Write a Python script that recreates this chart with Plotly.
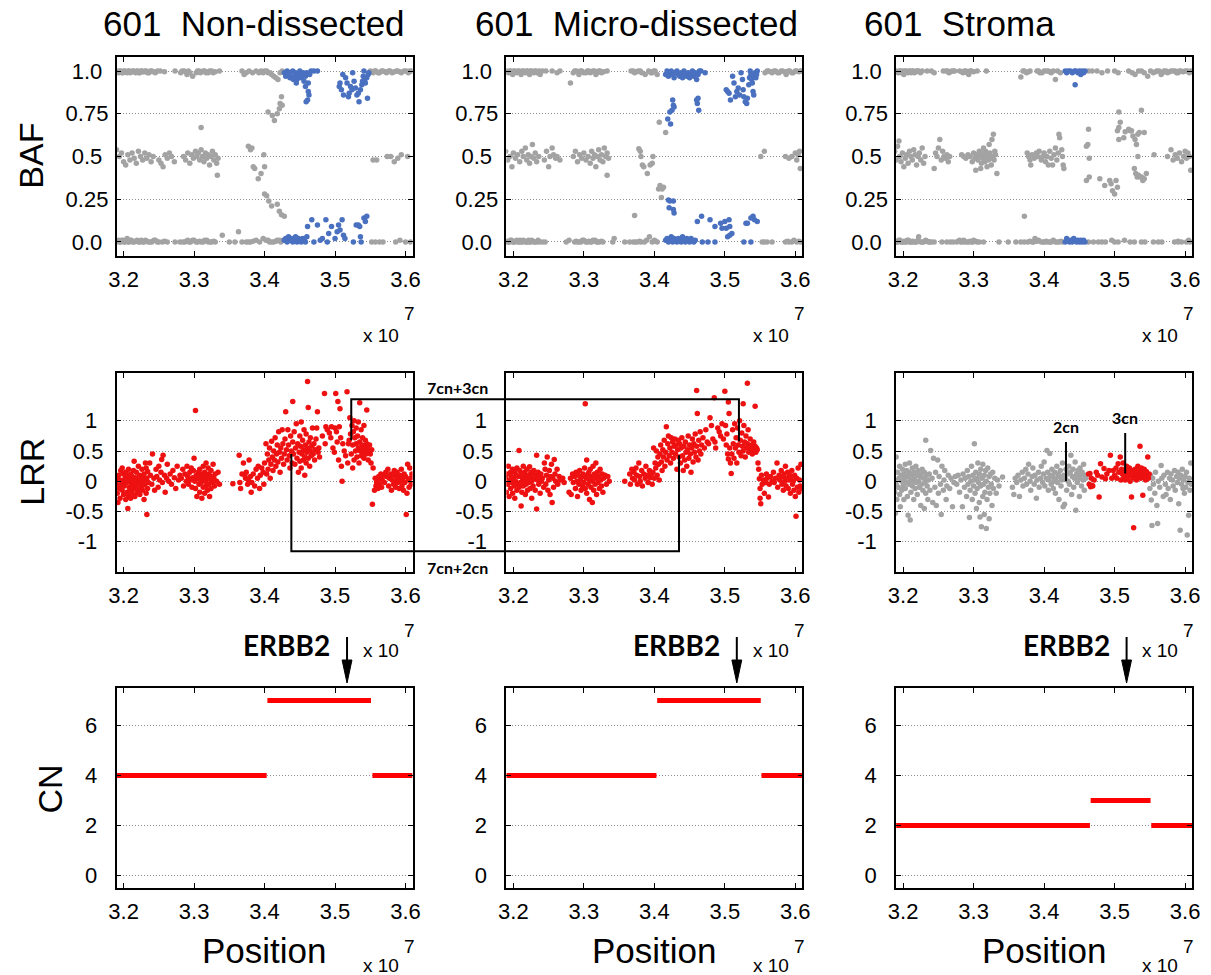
import plotly.graph_objects as go

# Positions are chr17 coordinates in units of 1e7 bp.

# ---------------- 601 Non-dissected ----------------
BAF_ND_GRAY = [
    (3.190, 1.0), (3.193, 0.99), (3.196, 1.0), (3.199, 0.99), (3.202, 1.0), (3.205, 0.99), (3.208, 1.0),
    (3.211, 0.995), (3.214, 1.0), (3.217, 0.99), (3.220, 1.0), (3.223, 0.99), (3.226, 1.0), (3.229, 0.995),
    (3.232, 1.0), (3.236, 0.99), (3.240, 1.0), (3.245, 0.99), (3.252, 1.0), (3.258, 0.995), (3.273, 1.0),
    (3.281, 0.99), (3.286, 1.0), (3.290, 0.98), (3.294, 0.99), (3.298, 0.97), (3.305, 1.0), (3.309, 0.99),
    (3.313, 1.0), (3.317, 0.99), (3.322, 1.0), (3.327, 0.99), (3.336, 1.0), (3.368, 1.0), (3.371, 0.98),
    (3.374, 0.99), (3.378, 1.0), (3.383, 0.99), (3.388, 1.0), (3.392, 0.99), (3.400, 1.0), (3.405, 0.99),
    (3.410, 0.98), (3.413, 0.97), (3.416, 0.96), (3.419, 0.95), (3.422, 0.99), (3.425, 1.0),
    (3.550, 1.0), (3.554, 0.99), (3.558, 1.0), (3.563, 0.99), (3.568, 1.0), (3.573, 0.99), (3.578, 1.0),
    (3.584, 0.995), (3.589, 1.0), (3.594, 0.99), (3.598, 1.0), (3.606, 1.0),
    (3.405, 0.76), (3.411, 0.74), (3.414, 0.71), (3.418, 0.75), (3.421, 0.78), (3.422, 0.81), (3.425, 0.80),
    (3.424, 0.85),
    (3.190, 0.54), (3.194, 0.50), (3.197, 0.52), (3.200, 0.47), (3.203, 0.45), (3.206, 0.51), (3.209, 0.48),
    (3.212, 0.52), (3.215, 0.49), (3.218, 0.46), (3.221, 0.53), (3.224, 0.50), (3.227, 0.48), (3.230, 0.52),
    (3.233, 0.49), (3.236, 0.51), (3.239, 0.47), (3.242, 0.50), (3.250, 0.48), (3.253, 0.46), (3.256, 0.44),
    (3.259, 0.51), (3.262, 0.49), (3.265, 0.52), (3.268, 0.50), (3.272, 0.47), (3.285, 0.50), (3.288, 0.48),
    (3.291, 0.52), (3.294, 0.46), (3.297, 0.51), (3.299, 0.49), (3.302, 0.53), (3.304, 0.50), (3.306, 0.52),
    (3.308, 0.48), (3.310, 0.54), (3.312, 0.50), (3.314, 0.47), (3.316, 0.52), (3.318, 0.49), (3.320, 0.51),
    (3.322, 0.45), (3.324, 0.50), (3.326, 0.53), (3.328, 0.48), (3.330, 0.51), (3.332, 0.46), (3.334, 0.49),
    (3.333, 0.39), (3.310, 0.67),
    (3.554, 0.48), (3.559, 0.48), (3.574, 0.50), (3.579, 0.50), (3.584, 0.47), (3.589, 0.49), (3.594, 0.51),
    (3.603, 0.50),
    (3.377, 0.56), (3.380, 0.54), (3.382, 0.55), (3.384, 0.44), (3.386, 0.43), (3.391, 0.37), (3.395, 0.40),
    (3.399, 0.51), (3.400, 0.44),
    (3.400, 0.28), (3.403, 0.27), (3.406, 0.24), (3.410, 0.21), (3.418, 0.22), (3.421, 0.18), (3.424, 0.16),
    (3.428, 0.15),
    (3.190, 0.0), (3.193, 0.01), (3.196, 0.0), (3.199, 0.01), (3.202, 0.0), (3.205, 0.02), (3.208, 0.0),
    (3.211, 0.01), (3.215, 0.0), (3.219, 0.01), (3.223, 0.0), (3.227, 0.0), (3.231, 0.01), (3.235, 0.0),
    (3.240, 0.0), (3.245, 0.01), (3.250, 0.0), (3.255, 0.0), (3.262, 0.0), (3.273, 0.0), (3.280, 0.0),
    (3.287, 0.0), (3.291, 0.01), (3.295, 0.0), (3.300, 0.01), (3.305, 0.0), (3.310, 0.0), (3.315, 0.01),
    (3.320, 0.0), (3.325, 0.0), (3.330, 0.0), (3.340, 0.04), (3.350, 0.0), (3.358, 0.0), (3.363, 0.06),
    (3.368, 0.0), (3.374, 0.0), (3.380, 0.0), (3.388, 0.01), (3.393, 0.0), (3.398, 0.02), (3.402, 0.01),
    (3.407, 0.0), (3.413, 0.0), (3.418, 0.01), (3.423, 0.0), (3.426, 0.01), (3.552, 0.0), (3.557, 0.0),
    (3.563, 0.0), (3.568, 0.0), (3.586, 0.0), (3.592, 0.01), (3.600, 0.0), (3.607, 0.0),
]
# additional SNPs filling the homozygous bands
BAF_ND_BAND = [
    (3.1915, 0.995), (3.1945, 1.0), (3.1975, 0.99), (3.2005, 1.0), (3.2035, 0.995), (3.2065, 1.0),
    (3.2095, 0.99), (3.2125, 1.0), (3.2155, 0.995), (3.2185, 1.0), (3.2215, 0.99), (3.2245, 1.0),
    (3.2275, 0.995), (3.2305, 1.0), (3.234, 0.99), (3.238, 1.0), (3.2425, 0.995), (3.248, 1.0),
    (3.283, 1.0), (3.288, 0.995), (3.292, 1.0), (3.303, 0.99), (3.307, 1.0), (3.311, 0.995), (3.315, 1.0),
    (3.320, 0.99), (3.325, 1.0), (3.330, 0.995), (3.395, 1.0), (3.398, 0.99), (3.403, 1.0), (3.408, 0.99),
    (3.552, 0.995), (3.556, 1.0), (3.561, 0.99), (3.566, 1.0), (3.571, 0.995), (3.576, 1.0), (3.581, 0.99),
    (3.587, 1.0), (3.592, 0.995), (3.601, 1.0), (3.604, 0.99), (3.609, 1.0),
    (3.1915, 0.005), (3.1945, 0.0), (3.1975, 0.01), (3.2005, 0.0), (3.2035, 0.005), (3.2065, 0.0),
    (3.2095, 0.01), (3.213, 0.0), (3.217, 0.005), (3.221, 0.0), (3.225, 0.01), (3.229, 0.0), (3.233, 0.005),
    (3.238, 0.0), (3.243, 0.01), (3.248, 0.0), (3.258, 0.005), (3.284, 0.0), (3.289, 0.005), (3.293, 0.0),
    (3.298, 0.01), (3.303, 0.0), (3.308, 0.005), (3.313, 0.0), (3.318, 0.01), (3.323, 0.0), (3.328, 0.005),
    (3.377, 0.0), (3.384, 0.005), (3.405, 0.01), (3.410, 0.0), (3.416, 0.005), (3.421, 0.01),
]
BAF_ND_BLUE = [
    (3.428, 0.99), (3.430, 0.97), (3.432, 1.0), (3.434, 0.98), (3.436, 0.99), (3.438, 0.96), (3.440, 1.0),
    (3.442, 0.97), (3.444, 0.99), (3.446, 0.95), (3.448, 0.98), (3.450, 1.0), (3.452, 0.96), (3.454, 0.98),
    (3.456, 0.94), (3.458, 0.97), (3.460, 0.99), (3.462, 0.93), (3.464, 0.98), (3.466, 1.0), (3.470, 1.0),
    (3.475, 1.0), (3.458, 0.91), (3.462, 0.88), (3.463, 0.86), (3.461, 0.83), (3.459, 0.82), (3.445, 0.93),
    (3.436, 0.96), (3.441, 0.95), (3.451, 0.97), (3.455, 0.99),
    (3.507, 0.93), (3.506, 0.91), (3.509, 0.89), (3.511, 0.98), (3.515, 0.96), (3.517, 0.93), (3.520, 0.87),
    (3.522, 0.91), (3.525, 0.99), (3.527, 0.94), (3.529, 0.90), (3.531, 0.86), (3.533, 0.87), (3.534, 0.82),
    (3.536, 0.89), (3.538, 0.92), (3.539, 0.94), (3.540, 0.97), (3.541, 1.0), (3.542, 0.95), (3.543, 0.93),
    (3.545, 0.96), (3.546, 0.84), (3.547, 0.98), (3.548, 0.99), (3.512, 0.86), (3.519, 0.85), (3.524, 0.89),
    (3.428, 0.01), (3.430, 0.02), (3.432, 0.0), (3.434, 0.03), (3.436, 0.01), (3.438, 0.02), (3.440, 0.0),
    (3.442, 0.01), (3.444, 0.03), (3.446, 0.0), (3.448, 0.02), (3.450, 0.01), (3.452, 0.0), (3.454, 0.02),
    (3.456, 0.01), (3.458, 0.0), (3.460, 0.03), (3.461, 0.09), (3.467, 0.13), (3.475, 0.10), (3.479, 0.01),
    (3.487, 0.13), (3.489, 0.0), (3.491, 0.05), (3.495, 0.09), (3.500, 0.02), (3.503, 0.06), (3.505, 0.10),
    (3.507, 0.07), (3.510, 0.13), (3.512, 0.04), (3.514, 0.02), (3.526, 0.0), (3.530, 0.10), (3.533, 0.10),
    (3.535, 0.09), (3.536, 0.03), (3.537, 0.0), (3.541, 0.14), (3.543, 0.12), (3.545, 0.15), (3.470, 0.0),
    (3.482, 0.02),
]
LRR_ND = [
    (3.190, -0.05), (3.191, 0.05), (3.191, -0.20), (3.192, -0.35), (3.193, 0.10), (3.194, -0.12), (3.195, 0.02),
    (3.195, -0.28), (3.196, 0.18), (3.197, -0.05), (3.198, 0.22), (3.198, -0.15), (3.199, 0.00), (3.200, -0.22),
    (3.200, 0.12), (3.201, -0.08), (3.202, 0.05), (3.203, -0.30), (3.203, 0.15), (3.204, -0.02), (3.205, -0.18),
    (3.205, 0.08), (3.206, -0.45), (3.206, 0.00), (3.207, -0.25), (3.207, 0.20), (3.208, -0.10), (3.209, 0.04),
    (3.209, -0.15), (3.210, 0.12), (3.210, -0.28), (3.211, -0.05), (3.212, 0.08), (3.212, -0.20), (3.213, 0.00),
    (3.214, -0.12), (3.214, 0.18), (3.215, -0.02), (3.215, 0.33), (3.216, -0.25), (3.217, 0.06), (3.217, -0.08),
    (3.218, 0.15), (3.219, -0.18), (3.219, 0.02), (3.220, -0.05), (3.221, 0.25), (3.221, -0.14), (3.222, 0.00),
    (3.223, 0.10), (3.223, -0.22), (3.224, -0.03), (3.225, 0.05), (3.225, -0.10), (3.226, 0.20), (3.227, -0.15),
    (3.227, 0.00), (3.228, 0.08), (3.229, -0.30), (3.229, 0.12), (3.230, -0.06), (3.231, 0.30), (3.231, 0.02),
    (3.232, -0.20), (3.232, 0.22), (3.233, -0.55), (3.233, 0.05), (3.234, -0.12), (3.234, 0.16), (3.235, -0.02),
    (3.237, 0.30), (3.238, 0.10), (3.240, -0.05), (3.241, 0.45), (3.243, 0.05), (3.244, -0.15), (3.246, 0.20),
    (3.247, 0.08), (3.249, -0.10), (3.250, 0.25), (3.251, 0.02), (3.253, 0.15), (3.254, 0.36), (3.255, -0.02),
    (3.256, 0.43), (3.258, 0.10), (3.259, -0.18), (3.261, 0.05), (3.262, 0.28), (3.264, 0.00), (3.266, 0.12),
    (3.268, -0.05), (3.270, 0.18), (3.272, 0.06), (3.274, -0.12), (3.276, 0.25), (3.278, 0.02), (3.280, 0.10),
    (3.302, 1.17),
    (3.282, 0.05), (3.284, 0.20), (3.285, -0.08), (3.287, 0.12), (3.289, 0.00), (3.290, 0.25), (3.291, 0.08),
    (3.292, -0.05), (3.294, 0.15), (3.295, 0.02), (3.296, 0.22), (3.297, -0.10), (3.298, 0.06), (3.299, 0.18),
    (3.300, 0.38), (3.301, 0.00), (3.302, -0.12), (3.303, 0.10), (3.304, -0.25), (3.305, 0.04), (3.306, 0.15),
    (3.307, -0.05), (3.308, 0.20), (3.308, -0.18), (3.309, 0.08), (3.310, -0.02), (3.311, 0.12), (3.311, -0.28),
    (3.312, 0.02), (3.313, 0.25), (3.313, -0.10), (3.314, 0.05), (3.315, -0.20), (3.315, 0.15), (3.316, 0.00),
    (3.317, 0.30), (3.317, -0.08), (3.318, 0.10), (3.319, -0.15), (3.319, 0.05), (3.320, 0.22), (3.321, -0.05),
    (3.321, 0.12), (3.322, -0.25), (3.323, 0.03), (3.324, 0.18), (3.324, -0.12), (3.325, 0.08), (3.326, -0.02),
    (3.327, 0.28), (3.328, 0.05), (3.329, -0.08), (3.330, 0.12), (3.332, 0.00), (3.334, 0.15), (3.336, -0.05),
    (3.355, -0.04), (3.364, 0.43), (3.365, -0.02), (3.366, -0.12), (3.368, 0.12), (3.370, 0.30), (3.372, 0.10),
    (3.373, 0.05), (3.374, 0.15), (3.376, -0.05), (3.377, 0.02), (3.378, 0.35), (3.380, 0.08), (3.381, -0.18),
    (3.382, -0.02), (3.384, 0.12), (3.386, -0.08), (3.388, 0.20), (3.390, 0.05), (3.391, 0.25), (3.393, -0.12),
    (3.394, 0.10), (3.396, 0.22), (3.398, 0.15), (3.399, -0.05),
    (3.400, 0.30), (3.402, 0.62), (3.403, 0.12), (3.404, 0.45), (3.405, 0.20), (3.406, 0.35), (3.407, 0.55),
    (3.408, 0.05), (3.409, 0.28), (3.410, 0.66), (3.411, 0.40), (3.412, 0.18), (3.413, 0.50), (3.414, 0.35),
    (3.415, 0.72), (3.416, 0.25), (3.417, 0.45), (3.418, 0.60), (3.419, 0.32), (3.420, 0.82), (3.421, 0.48),
    (3.422, 0.15), (3.423, 0.55), (3.424, 0.38), (3.425, 0.85), (3.426, 0.62), (3.427, 0.28), (3.428, 0.45),
    (3.429, 0.70), (3.430, 1.15), (3.431, 0.52), (3.432, 0.35), (3.433, 0.85), (3.434, 0.60), (3.435, 0.42),
    (3.436, 0.22), (3.437, 0.75), (3.438, 0.50), (3.439, 0.30), (3.440, 1.32), (3.440, 0.65),
    (3.441, 0.45), (3.442, 0.82), (3.443, 0.28), (3.444, 0.55), (3.445, 0.95), (3.446, 0.38), (3.447, 0.62),
    (3.448, 0.15), (3.449, 0.48), (3.450, 0.75), (3.450, 0.33), (3.451, 0.58), (3.452, 0.98), (3.452, 0.22),
    (3.453, 0.45), (3.454, 0.68), (3.455, 0.35), (3.455, 0.52), (3.456, 0.85), (3.457, 0.40), (3.457, 0.10),
    (3.458, 0.60), (3.459, 0.30), (3.459, 0.78), (3.460, 0.48), (3.461, 1.65), (3.461, 0.55), (3.462, 1.22),
    (3.462, 0.38), (3.463, 0.65), (3.464, 0.25), (3.465, 0.50), (3.465, 0.72), (3.466, 0.42), (3.467, 0.58),
    (3.468, 0.88), (3.469, 0.45), (3.470, 0.62), (3.471, 0.35), (3.472, 0.52), (3.473, 0.70), (3.474, 0.88),
    (3.475, 1.15), (3.476, 0.48), (3.477, 0.55), (3.478, 0.40),
    (3.482, 0.75), (3.485, 1.45), (3.486, 0.62), (3.487, 0.90), (3.489, 0.85), (3.492, 0.80), (3.494, 0.72),
    (3.495, 0.90), (3.497, 0.55), (3.499, 0.48), (3.500, 0.88), (3.501, 1.45), (3.502, 0.82), (3.503, 0.65),
    (3.504, 1.32), (3.505, 0.35), (3.506, 0.90), (3.507, 1.20), (3.508, 0.72), (3.509, 0.25), (3.510, 0.00),
    (3.511, 0.62), (3.513, 0.50), (3.515, 0.42), (3.517, 1.48), (3.518, 0.30), (3.519, 0.62),
    (3.520, 0.68), (3.521, 1.05), (3.522, 0.78), (3.523, 0.45), (3.524, 0.92), (3.525, 0.60), (3.525, 0.22),
    (3.526, 0.82), (3.527, 1.00), (3.527, 0.35), (3.528, 0.72), (3.529, 0.50), (3.530, 0.88), (3.530, 0.62),
    (3.531, 0.40), (3.532, 0.75), (3.533, 0.55), (3.533, 0.98), (3.534, 0.30), (3.535, 0.65), (3.535, 1.30),
    (3.536, 0.50), (3.537, 0.85), (3.537, 0.42), (3.538, 0.60), (3.539, 0.55), (3.539, 0.72), (3.540, 0.48),
    (3.541, 0.92), (3.541, 0.38), (3.542, 0.58), (3.543, 0.52), (3.543, 0.68), (3.544, 0.45), (3.545, 0.62),
    (3.545, 1.18), (3.546, 0.55), (3.547, 0.35), (3.548, 0.50), (3.549, 0.60), (3.550, 0.45), (3.551, 0.30),
    (3.552, 0.52), (3.553, -0.38), (3.554, 0.22),
    (3.556, -0.15), (3.557, 0.05), (3.558, -0.08), (3.559, -0.02), (3.560, 0.02), (3.561, -0.12), (3.562, 0.08),
    (3.563, -0.05), (3.564, 0.05), (3.565, 0.12), (3.566, -0.10), (3.567, 0.02), (3.568, 0.10), (3.570, -0.02),
    (3.572, 0.15), (3.573, 0.08), (3.575, 0.20), (3.576, -0.08), (3.577, 0.05), (3.579, 0.12), (3.580, -0.15),
    (3.581, 0.02), (3.582, 0.10), (3.583, -0.05), (3.584, 0.18), (3.585, 0.00), (3.586, -0.10), (3.587, 0.08),
    (3.588, 0.15), (3.589, -0.02), (3.590, 0.05), (3.591, -0.12), (3.592, 0.10), (3.593, 0.00), (3.594, 0.20),
    (3.595, -0.08), (3.596, 0.05), (3.597, -0.15), (3.598, 0.12), (3.599, -0.02), (3.600, 0.08), (3.601, -0.55),
    (3.602, -0.20), (3.603, 0.28), (3.604, 0.02), (3.605, -0.10), (3.606, 0.22), (3.607, 0.05), (3.608, -0.05),
    (3.609, 0.12),
]
CN_ND = [(3.190, 3.403, 4), (3.404, 3.551, 7), (3.553, 3.610, 4)]

# ---------------- 601 Micro-dissected ----------------
BAF_MD_GRAY = [
    (3.190, 1.0), (3.193, 0.99), (3.196, 1.0), (3.199, 0.98), (3.202, 1.0), (3.205, 0.99), (3.208, 1.0),
    (3.211, 0.98), (3.214, 1.0), (3.217, 0.99), (3.220, 1.0), (3.223, 0.98), (3.226, 1.0), (3.229, 0.99),
    (3.232, 1.0), (3.235, 0.99), (3.238, 0.98), (3.241, 1.0), (3.246, 1.0), (3.255, 1.0), (3.262, 0.99),
    (3.266, 1.0), (3.281, 0.93), (3.285, 0.99), (3.289, 1.0), (3.293, 0.98), (3.297, 1.0), (3.300, 0.99),
    (3.305, 1.0), (3.309, 0.99), (3.313, 1.0), (3.317, 0.98), (3.321, 1.0), (3.325, 0.99), (3.333, 1.0),
    (3.367, 1.0), (3.372, 0.99), (3.377, 1.0), (3.382, 0.99), (3.387, 0.98), (3.392, 1.0), (3.397, 0.99),
    (3.401, 1.0), (3.404, 0.98), (3.557, 0.99), (3.562, 1.0), (3.567, 0.99), (3.572, 1.0), (3.577, 0.99),
    (3.582, 1.0), (3.587, 0.98), (3.592, 1.0), (3.597, 0.99), (3.602, 1.0), (3.607, 1.0),
    (3.407, 0.70), (3.416, 0.64),
    (3.189, 0.53), (3.192, 0.48), (3.195, 0.50), (3.198, 0.44), (3.200, 0.52), (3.203, 0.49), (3.206, 0.51),
    (3.209, 0.47), (3.212, 0.53), (3.214, 0.50), (3.217, 0.55), (3.219, 0.48), (3.221, 0.51), (3.223, 0.46),
    (3.225, 0.50), (3.227, 0.57), (3.229, 0.49), (3.231, 0.52), (3.233, 0.47), (3.236, 0.50), (3.244, 0.48),
    (3.247, 0.53), (3.250, 0.44), (3.252, 0.50), (3.255, 0.55), (3.257, 0.51), (3.260, 0.49), (3.262, 0.50),
    (3.266, 0.48), (3.285, 0.50), (3.288, 0.53), (3.291, 0.47), (3.294, 0.51), (3.297, 0.49), (3.300, 0.52),
    (3.303, 0.48), (3.306, 0.50), (3.309, 0.46), (3.311, 0.53), (3.313, 0.49), (3.315, 0.51), (3.317, 0.44),
    (3.319, 0.50), (3.321, 0.54), (3.323, 0.48), (3.325, 0.51), (3.327, 0.47), (3.329, 0.55), (3.331, 0.50),
    (3.333, 0.52), (3.335, 0.49), (3.333, 0.39),
    (3.378, 0.545), (3.380, 0.53), (3.381, 0.50), (3.383, 0.45), (3.385, 0.44), (3.390, 0.40), (3.394, 0.45),
    (3.397, 0.46), (3.398, 0.50),
    (3.551, 0.50), (3.556, 0.53), (3.586, 0.50), (3.591, 0.49), (3.595, 0.50), (3.600, 0.52), (3.602, 0.48),
    (3.604, 0.51), (3.606, 0.53), (3.607, 0.43),
    (3.406, 0.31), (3.408, 0.33), (3.411, 0.31), (3.413, 0.32), (3.410, 0.26), (3.372, 0.155),
    (3.190, 0.0), (3.193, 0.0), (3.196, 0.01), (3.199, 0.0), (3.202, 0.0), (3.205, 0.01), (3.208, 0.0),
    (3.211, 0.0), (3.214, 0.01), (3.217, 0.0), (3.220, 0.0), (3.223, 0.0), (3.226, 0.01), (3.229, 0.0),
    (3.233, 0.0), (3.237, 0.0), (3.241, 0.0), (3.245, 0.0), (3.275, 0.0), (3.279, 0.01), (3.287, 0.0),
    (3.291, 0.0), (3.296, 0.0), (3.300, 0.01), (3.305, 0.0), (3.309, 0.0), (3.313, 0.01), (3.318, 0.0),
    (3.322, 0.0), (3.327, 0.0), (3.341, 0.0), (3.343, 0.02), (3.358, 0.0), (3.365, 0.0), (3.370, 0.0),
    (3.376, 0.0), (3.381, 0.0), (3.389, 0.01), (3.393, 0.03), (3.397, 0.0), (3.400, 0.01), (3.404, 0.0),
    (3.553, 0.0), (3.560, 0.0), (3.567, 0.0), (3.586, 0.0), (3.591, 0.0), (3.598, 0.01), (3.602, 0.0),
    (3.607, 0.0),
]
BAF_MD_BAND = [
    (3.1915, 0.995), (3.1945, 1.0), (3.1975, 0.99), (3.2005, 1.0), (3.2035, 0.995), (3.2065, 1.0),
    (3.2095, 0.99), (3.2125, 1.0), (3.2155, 0.995), (3.2185, 1.0), (3.2215, 0.99), (3.2245, 1.0),
    (3.2275, 0.995), (3.2305, 1.0), (3.2335, 0.99), (3.2365, 1.0), (3.287, 1.0), (3.291, 0.995),
    (3.295, 1.0), (3.303, 0.99), (3.307, 1.0), (3.311, 0.995), (3.315, 1.0), (3.319, 0.99), (3.323, 1.0),
    (3.328, 0.995), (3.370, 1.0), (3.375, 0.995), (3.380, 1.0), (3.395, 0.99), (3.399, 1.0),
    (3.560, 1.0), (3.565, 0.995), (3.570, 1.0), (3.575, 0.99), (3.580, 1.0), (3.585, 0.995), (3.590, 1.0),
    (3.595, 0.99), (3.600, 1.0), (3.605, 0.995), (3.609, 1.0),
    (3.1915, 0.005), (3.1945, 0.0), (3.1975, 0.01), (3.2005, 0.0), (3.2035, 0.005), (3.2065, 0.0),
    (3.2095, 0.01), (3.2125, 0.0), (3.2155, 0.005), (3.2185, 0.0), (3.2215, 0.01), (3.2245, 0.0),
    (3.2275, 0.005), (3.231, 0.0), (3.235, 0.01), (3.289, 0.005), (3.293, 0.0), (3.298, 0.01), (3.303, 0.0),
    (3.307, 0.005), (3.311, 0.0), (3.316, 0.01), (3.320, 0.0), (3.325, 0.005), (3.373, 0.0), (3.379, 0.005),
    (3.386, 0.0), (3.402, 0.005), (3.556, 0.0), (3.589, 0.005), (3.595, 0.0), (3.605, 0.005),
]
BAF_MD_BLUE = [
    (3.416, 0.98), (3.418, 1.0), (3.420, 0.97), (3.422, 0.99), (3.424, 1.0), (3.426, 0.98), (3.428, 0.96),
    (3.430, 0.99), (3.432, 1.0), (3.434, 0.98), (3.436, 0.97), (3.438, 0.99), (3.440, 0.96), (3.442, 1.0),
    (3.444, 0.98), (3.446, 0.97), (3.448, 0.99), (3.450, 0.96), (3.452, 0.98), (3.454, 1.0), (3.456, 0.97),
    (3.458, 0.99), (3.460, 0.95), (3.462, 0.98), (3.464, 1.0), (3.466, 1.0), (3.472, 0.99), (3.426, 0.83),
    (3.427, 0.80), (3.422, 0.76), (3.425, 0.77), (3.419, 0.72), (3.423, 0.69), (3.428, 0.79), (3.460, 0.83),
    (3.462, 0.84), (3.461, 0.81), (3.463, 0.77),
    (3.502, 0.89), (3.504, 0.88), (3.506, 0.87), (3.508, 0.83), (3.511, 0.97), (3.513, 0.93), (3.515, 0.85),
    (3.517, 0.88), (3.519, 0.90), (3.521, 0.86), (3.523, 0.99), (3.525, 0.95), (3.526, 0.89), (3.527, 0.85),
    (3.529, 0.82), (3.531, 0.81), (3.532, 0.84), (3.534, 0.92), (3.535, 0.96), (3.536, 1.0), (3.537, 0.98),
    (3.538, 0.95), (3.539, 0.93), (3.540, 0.88), (3.541, 0.86), (3.542, 0.97), (3.543, 0.99), (3.544, 0.96),
    (3.545, 0.98), (3.546, 1.0),
    (3.420, 0.245), (3.422, 0.24), (3.427, 0.24), (3.421, 0.20), (3.427, 0.19), (3.428, 0.17),
    (3.416, 0.01), (3.418, 0.02), (3.420, 0.0), (3.422, 0.01), (3.424, 0.03), (3.426, 0.0), (3.428, 0.02),
    (3.430, 0.01), (3.432, 0.0), (3.434, 0.02), (3.436, 0.01), (3.438, 0.0), (3.440, 0.03), (3.442, 0.01),
    (3.444, 0.0), (3.446, 0.02), (3.448, 0.01), (3.450, 0.0), (3.452, 0.02), (3.454, 0.01), (3.456, 0.0),
    (3.458, 0.01), (3.461, 0.12), (3.467, 0.15), (3.468, 0.0), (3.479, 0.13), (3.476, 0.0), (3.486, 0.09),
    (3.486, 0.0), (3.494, 0.11), (3.496, 0.08), (3.500, 0.12), (3.502, 0.08), (3.504, 0.03), (3.507, 0.09),
    (3.507, 0.04), (3.510, 0.05), (3.506, 0.13), (3.527, 0.0), (3.530, 0.11), (3.532, 0.11), (3.537, 0.14),
    (3.540, 0.15), (3.542, 0.13), (3.546, 0.12), (3.537, 0.0),
]
LRR_MD = [
    (3.189, 0.05), (3.190, -0.18), (3.191, 0.12), (3.192, -0.05), (3.193, 0.25), (3.194, -0.25), (3.195, 0.02),
    (3.196, 0.15), (3.196, -0.12), (3.197, 0.08), (3.198, -0.02), (3.199, 0.20), (3.199, -0.20), (3.200, 0.05),
    (3.201, -0.08), (3.202, 0.15), (3.202, -0.28), (3.203, 0.00), (3.204, 0.10), (3.205, -0.15), (3.205, 0.22),
    (3.206, -0.05), (3.207, 0.08), (3.208, 0.51), (3.208, -0.10), (3.209, 0.18), (3.210, -0.02), (3.211, -0.41),
    (3.211, 0.12), (3.212, -0.18), (3.213, 0.05), (3.214, 0.25), (3.214, -0.08), (3.215, 0.00), (3.216, 0.15),
    (3.217, -0.22), (3.217, 0.08), (3.218, -0.05), (3.219, 0.20), (3.220, 0.02), (3.220, -0.15), (3.221, 0.10),
    (3.222, -0.02), (3.223, 0.24), (3.224, -0.12), (3.224, 0.06), (3.225, 0.15), (3.226, -0.28), (3.226, 0.00),
    (3.227, 0.12), (3.228, -0.08), (3.229, 0.18), (3.230, 0.04), (3.231, -0.15), (3.232, 0.10), (3.233, -0.46),
    (3.233, 0.43), (3.234, 0.02), (3.235, 0.15), (3.236, -0.05), (3.237, 0.08), (3.238, -0.20), (3.239, 0.12),
    (3.240, 0.00), (3.241, 0.05), (3.243, -0.10),
    (3.244, 0.30), (3.245, 0.20), (3.246, -0.05), (3.247, 0.10), (3.248, 0.40), (3.249, -0.15), (3.250, 0.02),
    (3.251, 0.18), (3.252, -0.22), (3.253, 0.08), (3.254, 0.28), (3.255, -0.35), (3.256, 0.05), (3.257, -0.10),
    (3.258, 0.36), (3.259, 0.12), (3.260, 0.00), (3.262, 0.20), (3.263, -0.05), (3.265, 0.08), (3.267, 0.02),
    (3.270, 0.05), (3.272, -0.02),
    (3.279, -0.18), (3.281, 0.05), (3.282, -0.22), (3.284, 0.12), (3.285, -0.02), (3.287, 0.08), (3.288, -0.12),
    (3.289, 0.15), (3.290, 0.00), (3.291, -0.25), (3.292, 0.10), (3.293, -0.05), (3.294, 0.18), (3.295, 0.02),
    (3.296, -0.15), (3.297, 0.08), (3.298, -0.08), (3.299, 0.12), (3.300, -0.02), (3.301, 0.22), (3.302, 1.28),
    (3.302, -0.12), (3.303, 0.05), (3.304, 0.35), (3.304, -0.20), (3.305, 0.10), (3.306, -0.05), (3.307, 0.15),
    (3.308, -0.30), (3.308, 0.02), (3.309, 0.20), (3.310, -0.10), (3.311, 0.08), (3.312, -0.35), (3.312, 0.00),
    (3.313, 0.25), (3.314, -0.15), (3.315, 0.12), (3.316, -0.05), (3.317, 0.30), (3.317, 0.05), (3.318, -0.22),
    (3.319, 0.15), (3.320, -0.02), (3.321, 0.08), (3.322, -0.12), (3.323, 0.20), (3.324, 0.02), (3.325, -0.08),
    (3.326, 0.12), (3.327, -0.18), (3.328, 0.05), (3.330, 0.10), (3.332, -0.05), (3.334, 0.08), (3.336, 0.00),
    (3.358, 0.00), (3.365, 0.12), (3.366, -0.05), (3.368, 0.20), (3.369, 0.05), (3.371, 0.15), (3.372, 0.02),
    (3.374, 0.22), (3.375, 0.10), (3.376, -0.05), (3.378, 0.30), (3.379, 0.08), (3.380, 0.00), (3.382, 0.18),
    (3.383, -0.08), (3.385, 0.12), (3.387, 0.05), (3.388, 0.25), (3.390, 0.10), (3.391, -0.02), (3.393, 0.18),
    (3.394, 0.06), (3.396, 0.12), (3.397, -0.05),
    (3.398, 0.15), (3.399, 0.55), (3.400, 0.05), (3.401, 0.30), (3.402, 0.22), (3.403, 0.50), (3.404, 0.10),
    (3.405, 0.40), (3.406, 0.28), (3.407, 0.02), (3.408, 0.45), (3.409, 0.60), (3.410, 0.32), (3.411, 0.18),
    (3.412, 0.52), (3.413, 0.40), (3.414, 0.68), (3.415, 0.25), (3.416, 0.48), (3.417, 0.90), (3.418, 0.35),
    (3.419, 0.62), (3.420, 0.75), (3.421, 0.42), (3.422, 0.55), (3.423, 0.30), (3.424, 0.72), (3.425, 0.48),
    (3.426, 0.65), (3.427, 0.38), (3.428, 0.58), (3.429, 0.70), (3.430, 0.45), (3.431, 0.60), (3.432, 0.20),
    (3.433, 0.52), (3.434, 0.68),
    (3.435, 0.40), (3.436, 0.62), (3.437, 0.30), (3.438, 0.55), (3.439, 0.72), (3.440, 0.42), (3.441, 0.18),
    (3.442, 0.58), (3.443, 0.35), (3.444, 0.65), (3.445, 0.48), (3.446, 0.25), (3.447, 0.52), (3.448, 0.75),
    (3.449, 0.38), (3.450, 0.60), (3.451, 0.45), (3.452, 0.15), (3.453, 0.55), (3.454, 0.70), (3.455, 0.32),
    (3.456, 0.62), (3.457, 0.48), (3.458, 0.78), (3.459, 0.40), (3.460, 1.50), (3.460, 0.58), (3.461, 1.12),
    (3.462, 0.35), (3.463, 0.68), (3.464, 0.50), (3.465, 0.82), (3.466, 0.45), (3.467, 0.60),
    (3.469, 0.72), (3.471, 0.55), (3.473, 0.85), (3.475, 0.65), (3.477, 0.62), (3.479, 1.05), (3.481, 0.92),
    (3.483, 0.70), (3.485, 1.38), (3.486, 0.65), (3.487, 0.55), (3.490, 0.88), (3.492, 0.82), (3.494, 0.75),
    (3.496, 0.95), (3.498, 0.70), (3.500, 1.49), (3.501, 0.92), (3.502, 0.60), (3.503, 0.78), (3.504, 0.45),
    (3.505, 1.31), (3.505, 0.37), (3.506, 1.12), (3.507, 0.55), (3.508, 0.30), (3.509, 0.13),
    (3.510, 0.45), (3.511, 0.85), (3.512, 0.62), (3.513, 0.38), (3.514, 0.95), (3.515, 0.55), (3.516, 0.72),
    (3.517, 0.30), (3.518, 0.88), (3.519, 0.60), (3.520, 0.48), (3.521, 1.00), (3.522, 0.68), (3.523, 0.42),
    (3.524, 0.80), (3.525, 0.58), (3.526, 1.28), (3.526, 0.50), (3.527, 0.92), (3.528, 0.65), (3.529, 0.40),
    (3.530, 0.75), (3.531, 0.55), (3.532, 1.62), (3.532, 0.62), (3.533, 0.85), (3.534, 0.48), (3.535, 0.58),
    (3.536, 0.70), (3.537, 0.52), (3.538, 0.60), (3.539, 0.45), (3.540, 0.55), (3.541, 0.65), (3.542, 0.50),
    (3.543, 1.24), (3.543, 0.58), (3.544, 0.48), (3.545, 0.55), (3.546, 0.52), (3.547, 0.30), (3.548, 0.20),
    (3.549, 0.04), (3.550, -0.12), (3.550, -0.28), (3.551, -0.37), (3.552, 0.10), (3.553, -0.05), (3.555, 0.02),
    (3.556, -0.20), (3.558, -0.02), (3.559, 0.12), (3.560, 0.05), (3.562, -0.26), (3.563, -0.05), (3.565, 0.08),
    (3.567, 0.00), (3.569, 0.15), (3.570, -0.02), (3.572, 0.05), (3.574, 0.30), (3.575, -0.10), (3.577, 0.10),
    (3.578, 0.02), (3.580, 0.18), (3.581, -0.05), (3.582, 0.08), (3.583, -0.15), (3.584, 0.12), (3.585, 0.00),
    (3.586, 0.25), (3.587, -0.08), (3.588, 0.05), (3.589, 0.15), (3.590, -0.12), (3.591, 0.02), (3.592, 0.10),
    (3.593, -0.20), (3.594, 0.05), (3.595, 0.18), (3.596, -0.05), (3.597, 0.00), (3.598, -0.15), (3.599, 0.10),
    (3.600, -0.25), (3.601, -0.58), (3.602, 0.05), (3.603, -0.10), (3.604, 0.22), (3.605, -0.18), (3.606, 0.02),
    (3.607, -0.08), (3.608, 0.28), (3.609, -0.12),
]
CN_MD = [(3.190, 3.403, 4), (3.404, 3.551, 7), (3.552, 3.610, 4)]

# ---------------- 601 Stroma ----------------
BAF_ST_GRAY = [
    (3.190, 1.0), (3.193, 0.99), (3.196, 1.0), (3.199, 1.0), (3.201, 0.98), (3.204, 1.0), (3.207, 0.99),
    (3.210, 1.0), (3.213, 1.0), (3.216, 0.99), (3.219, 1.0), (3.222, 1.0), (3.227, 1.0), (3.234, 1.0),
    (3.240, 1.0), (3.244, 0.99), (3.257, 1.0), (3.261, 1.0), (3.265, 0.99), (3.269, 1.0), (3.273, 1.0),
    (3.280, 1.0), (3.285, 0.99), (3.289, 1.0), (3.293, 0.98), (3.297, 1.0), (3.305, 1.0), (3.318, 1.0),
    (3.367, 0.965), (3.370, 1.0), (3.375, 0.99), (3.380, 1.0), (3.390, 1.0), (3.394, 0.99), (3.400, 1.0),
    (3.406, 1.0), (3.410, 0.99), (3.416, 0.95), (3.419, 1.0), (3.423, 0.99), (3.463, 1.0), (3.468, 1.0),
    (3.475, 1.0), (3.482, 0.99), (3.490, 1.0), (3.500, 1.0), (3.505, 0.99), (3.520, 1.0), (3.525, 0.99),
    (3.529, 0.98), (3.534, 1.0), (3.538, 1.0), (3.542, 0.99), (3.547, 0.97), (3.551, 1.0), (3.555, 0.99),
    (3.560, 1.0), (3.566, 0.98), (3.570, 1.0), (3.575, 0.99), (3.580, 1.0), (3.586, 1.0), (3.590, 0.99),
    (3.594, 1.0), (3.603, 1.0), (3.608, 1.0),
    (3.188, 0.53), (3.190, 0.48), (3.192, 0.56), (3.194, 0.59), (3.195, 0.50), (3.197, 0.47), (3.199, 0.52),
    (3.201, 0.44), (3.203, 0.49), (3.205, 0.51), (3.207, 0.46), (3.209, 0.53), (3.211, 0.50), (3.213, 0.48),
    (3.215, 0.54), (3.217, 0.51), (3.219, 0.45), (3.221, 0.50), (3.223, 0.52), (3.225, 0.48), (3.227, 0.55),
    (3.229, 0.46), (3.231, 0.50), (3.244, 0.43), (3.246, 0.52), (3.248, 0.50), (3.250, 0.55), (3.252, 0.60),
    (3.254, 0.48), (3.256, 0.53), (3.258, 0.50), (3.260, 0.49), (3.262, 0.51), (3.264, 0.47), (3.266, 0.50),
    (3.283, 0.51), (3.286, 0.50), (3.289, 0.49), (3.292, 0.51), (3.295, 0.50), (3.298, 0.47), (3.300, 0.52),
    (3.302, 0.49), (3.304, 0.51), (3.306, 0.48), (3.308, 0.53), (3.309, 0.50), (3.311, 0.46), (3.312, 0.52),
    (3.313, 0.49), (3.314, 0.55), (3.315, 0.50), (3.316, 0.47), (3.317, 0.53), (3.318, 0.51), (3.319, 0.44),
    (3.320, 0.50), (3.321, 0.48), (3.322, 0.57), (3.323, 0.52), (3.324, 0.49), (3.325, 0.45), (3.326, 0.60),
    (3.327, 0.50), (3.328, 0.63), (3.329, 0.48), (3.330, 0.53), (3.331, 0.51), (3.333, 0.40), (3.303, 0.42),
    (3.310, 0.43),
    (3.376, 0.52), (3.378, 0.50), (3.380, 0.48), (3.381, 0.45), (3.383, 0.51), (3.386, 0.49), (3.389, 0.52),
    (3.391, 0.50), (3.393, 0.53), (3.396, 0.48), (3.398, 0.50), (3.400, 0.52), (3.402, 0.47), (3.404, 0.50),
    (3.406, 0.45), (3.408, 0.53), (3.410, 0.49), (3.412, 0.45), (3.414, 0.51), (3.416, 0.55), (3.418, 0.48),
    (3.420, 0.52), (3.421, 0.63), (3.422, 0.61), (3.425, 0.54), (3.426, 0.50), (3.427, 0.45), (3.428, 0.43),
    (3.460, 0.56), (3.462, 0.57), (3.463, 0.66), (3.464, 0.49), (3.460, 0.36), (3.464, 0.38), (3.479, 0.37),
    (3.486, 0.33), (3.493, 0.36), (3.495, 0.34), (3.497, 0.30), (3.500, 0.28), (3.502, 0.36), (3.504, 0.32),
    (3.504, 0.65), (3.506, 0.67), (3.508, 0.70), (3.506, 0.76), (3.506, 0.60), (3.513, 0.61), (3.515, 0.645),
    (3.520, 0.66), (3.522, 0.65), (3.524, 0.65), (3.526, 0.62), (3.529, 0.60), (3.531, 0.57), (3.533, 0.63),
    (3.535, 0.64), (3.538, 0.77), (3.542, 0.64), (3.533, 0.50), (3.528, 0.43), (3.530, 0.40), (3.532, 0.38),
    (3.534, 0.39), (3.536, 0.38), (3.538, 0.38), (3.542, 0.37), (3.545, 0.40), (3.540, 0.36), (3.556, 0.51),
    (3.575, 0.50), (3.580, 0.54), (3.583, 0.48), (3.586, 0.51), (3.589, 0.49), (3.592, 0.52), (3.595, 0.47),
    (3.598, 0.50), (3.600, 0.53), (3.602, 0.49), (3.604, 0.52), (3.606, 0.50), (3.608, 0.42),
    (3.372, 0.15),
    (3.188, 0.0), (3.191, 0.0), (3.194, 0.01), (3.197, 0.0), (3.200, 0.0), (3.203, 0.0), (3.206, 0.01),
    (3.209, 0.0), (3.212, 0.0), (3.215, 0.0), (3.219, 0.0), (3.222, 0.03), (3.225, 0.0), (3.229, 0.0),
    (3.232, 0.01), (3.236, 0.0), (3.240, 0.0), (3.244, 0.0), (3.255, 0.0), (3.262, 0.0), (3.267, 0.0),
    (3.271, 0.0), (3.276, 0.0), (3.280, 0.01), (3.284, 0.0), (3.288, 0.0), (3.293, 0.0), (3.297, 0.0),
    (3.300, 0.01), (3.305, 0.0), (3.314, 0.0), (3.336, 0.0), (3.349, 0.0), (3.360, 0.0), (3.367, 0.0),
    (3.372, 0.0), (3.377, 0.0), (3.383, 0.0), (3.387, 0.02), (3.392, 0.01), (3.396, 0.0), (3.401, 0.0),
    (3.405, 0.0), (3.410, 0.0), (3.416, 0.0), (3.421, 0.0), (3.426, 0.0), (3.463, 0.0), (3.470, 0.0),
    (3.477, 0.0), (3.482, 0.0), (3.487, 0.0), (3.496, 0.01), (3.500, 0.0), (3.505, 0.0), (3.514, 0.01),
    (3.522, 0.0), (3.528, 0.0), (3.538, 0.0), (3.543, 0.0), (3.555, 0.0), (3.562, 0.0), (3.567, 0.0),
    (3.585, 0.0), (3.590, 0.0), (3.595, 0.0), (3.602, 0.0), (3.607, 0.0),
]
BAF_ST_BAND = [
    (3.1915, 0.995), (3.1945, 1.0), (3.1975, 0.99), (3.2025, 1.0), (3.2055, 0.995), (3.2085, 1.0),
    (3.2115, 0.99), (3.2145, 1.0), (3.2175, 0.995), (3.2205, 1.0), (3.2245, 0.99), (3.263, 1.0),
    (3.267, 0.995), (3.271, 1.0), (3.283, 0.995), (3.287, 1.0), (3.291, 0.99), (3.295, 1.0), (3.300, 0.995),
    (3.372, 1.0), (3.378, 0.995), (3.392, 1.0), (3.397, 0.99), (3.403, 1.0), (3.408, 0.995), (3.413, 1.0),
    (3.558, 0.995), (3.563, 1.0), (3.568, 0.99), (3.573, 1.0), (3.578, 0.995), (3.583, 1.0), (3.588, 0.99),
    (3.592, 1.0), (3.597, 0.995), (3.600, 1.0), (3.606, 0.99),
    (3.1895, 0.005), (3.1925, 0.0), (3.1955, 0.01), (3.1985, 0.0), (3.2015, 0.005), (3.2045, 0.0),
    (3.2075, 0.01), (3.2105, 0.0), (3.2135, 0.005), (3.217, 0.0), (3.221, 0.01), (3.227, 0.0),
    (3.234, 0.005), (3.238, 0.0), (3.278, 0.005), (3.282, 0.0), (3.286, 0.01), (3.291, 0.0), (3.295, 0.005),
    (3.299, 0.0), (3.303, 0.005), (3.308, 0.0), (3.380, 0.005), (3.385, 0.0), (3.390, 0.005), (3.399, 0.0),
    (3.403, 0.005), (3.408, 0.0), (3.413, 0.01), (3.419, 0.0), (3.424, 0.005), (3.590, 0.005), (3.605, 0.01),
]
BAF_ST_BLUE = [
    (3.430, 1.0), (3.432, 0.99), (3.434, 1.0), (3.437, 1.0), (3.440, 0.99), (3.443, 1.0), (3.445, 1.0),
    (3.448, 0.99), (3.450, 1.0), (3.452, 0.98), (3.454, 1.0), (3.456, 0.99), (3.458, 1.0), (3.444, 0.92),
    (3.430, 0.0), (3.432, 0.02), (3.434, 0.01), (3.436, 0.0), (3.438, 0.01), (3.440, 0.0), (3.442, 0.02),
    (3.444, 0.01), (3.446, 0.0), (3.448, 0.01), (3.450, 0.0), (3.452, 0.01), (3.454, 0.0), (3.456, 0.01),
    (3.458, 0.0),
]
LRR_ST_GRAY = [
    (3.188, 0.02), (3.188, -0.18), (3.189, -0.53), (3.190, 0.40), (3.190, -0.05), (3.191, -0.30), (3.192, 0.15),
    (3.193, -0.10), (3.194, 0.05), (3.195, 0.25), (3.195, -0.22), (3.196, -0.42), (3.197, 0.10), (3.198, 0.00),
    (3.198, -0.15), (3.199, 0.20), (3.200, -0.08), (3.201, 0.12), (3.201, -0.30), (3.202, 0.05), (3.203, 0.28),
    (3.203, -0.12), (3.204, -0.02), (3.205, 0.18), (3.206, -0.25), (3.206, 0.08), (3.207, -0.56), (3.208, 0.15),
    (3.208, -0.05), (3.209, 0.30), (3.210, -0.64), (3.210, 0.02), (3.211, -0.18), (3.212, 0.10), (3.213, 0.22),
    (3.213, -0.08), (3.214, 0.00), (3.215, -0.30), (3.215, 0.15), (3.216, 0.05), (3.217, -0.12), (3.218, 0.25),
    (3.219, -0.02), (3.219, 0.10), (3.220, -0.22), (3.221, 0.18), (3.222, 0.00), (3.223, -0.10), (3.224, 0.08),
    (3.225, -0.40), (3.225, 0.12), (3.226, -0.05), (3.227, 0.20), (3.228, -0.15), (3.229, 0.05), (3.230, -0.45),
    (3.230, 0.15), (3.231, -0.02), (3.232, 0.68), (3.232, -0.20), (3.233, 0.10), (3.234, -0.08), (3.235, -0.30),
    (3.236, 0.02), (3.237, 0.12), (3.238, -0.15), (3.239, 0.51),
    (3.241, 0.05), (3.242, -0.35), (3.243, 0.38), (3.245, -0.10), (3.246, 0.15), (3.247, -0.40), (3.249, 0.35),
    (3.250, -0.20), (3.251, 0.08), (3.253, -0.05), (3.254, -0.55), (3.255, 0.25), (3.257, -0.15), (3.258, 0.02),
    (3.259, 0.18), (3.261, -0.30), (3.262, -0.08), (3.264, 0.10), (3.266, -0.12), (3.268, 0.05), (3.270, -0.42),
    (3.272, -0.02), (3.274, 0.08),
    (3.276, -0.05), (3.278, 0.10), (3.280, -0.18), (3.282, 0.02), (3.284, -0.42), (3.285, 0.12), (3.287, -0.10),
    (3.288, 0.05), (3.290, -0.25), (3.291, 0.18), (3.292, -0.05), (3.293, 0.08), (3.294, -0.60), (3.295, -0.15),
    (3.296, 0.00), (3.297, 0.25), (3.298, -0.30), (3.299, 0.10), (3.300, -0.08), (3.301, 0.62), (3.301, 0.02),
    (3.302, -0.20), (3.303, 0.15), (3.304, -0.45), (3.305, 0.05), (3.305, -0.12), (3.306, 0.30), (3.307, -0.02),
    (3.308, -0.35), (3.308, 0.12), (3.309, -0.59), (3.310, 0.20), (3.310, -0.08), (3.311, -0.75), (3.312, 0.05),
    (3.313, -0.25), (3.313, 0.28), (3.314, -0.05), (3.315, -0.55), (3.315, 0.10), (3.316, -0.18), (3.317, 0.18),
    (3.318, -0.78), (3.318, 0.00), (3.319, -0.30), (3.320, 0.22), (3.321, -0.10), (3.322, -0.62), (3.322, 0.08),
    (3.323, -0.20), (3.324, 0.12), (3.325, -0.05), (3.326, -0.40), (3.327, 0.15), (3.328, -0.12), (3.330, 0.05),
    (3.332, -0.20), (3.334, 0.02), (3.336, -0.08), (3.341, 0.07),
    (3.355, -0.10), (3.357, -0.22), (3.359, 0.05), (3.361, -0.02), (3.363, 0.10), (3.365, -0.25), (3.367, 0.02),
    (3.369, 0.15), (3.370, -0.08), (3.372, 0.05), (3.374, 0.20), (3.375, -0.05), (3.377, 0.12), (3.378, 0.28),
    (3.380, 0.00), (3.381, -0.15), (3.383, 0.08), (3.384, 0.22), (3.386, -0.05), (3.387, 0.10), (3.389, -0.28),
    (3.390, 0.02), (3.392, 0.15), (3.393, -0.10), (3.395, 0.05), (3.396, 0.25), (3.398, -0.02), (3.399, 0.12),
    (3.400, 0.32), (3.401, -0.08), (3.403, 0.05), (3.404, 0.51), (3.405, 0.15), (3.406, -0.15), (3.407, 0.02),
    (3.408, 0.46), (3.409, 0.10), (3.410, -0.05), (3.411, 0.20), (3.412, 0.08), (3.413, -0.12), (3.414, 0.00),
    (3.415, 0.15), (3.416, -0.20), (3.417, 0.05), (3.418, 0.25), (3.419, -0.02), (3.420, 0.12), (3.421, -0.30),
    (3.422, 0.08), (3.423, 0.18), (3.424, -0.08), (3.425, 0.02), (3.426, 0.30), (3.427, -0.42), (3.428, 0.10),
    (3.429, -0.38), (3.430, 0.05), (3.431, 0.20), (3.432, -0.15), (3.433, 0.12), (3.434, 0.00), (3.435, 0.25),
    (3.436, -0.05), (3.437, 0.15), (3.438, 0.43), (3.439, -0.22), (3.440, 0.08), (3.441, 0.20), (3.442, -0.10),
    (3.443, 0.05), (3.444, 0.32), (3.445, -0.48), (3.446, 0.12), (3.447, -0.02), (3.448, 0.18), (3.449, 0.05),
    (3.450, -0.25), (3.451, 0.22), (3.452, 0.10), (3.453, -0.08), (3.454, 0.15), (3.455, 0.02), (3.456, 0.28),
    (3.457, -0.15), (3.458, 0.10), (3.459, 0.05),
    (3.550, -0.12), (3.551, 0.10), (3.552, -0.31), (3.553, -0.73), (3.554, 0.05), (3.555, -0.05), (3.557, -0.20),
    (3.558, 0.15), (3.560, -0.40), (3.561, -0.70), (3.562, 0.00), (3.564, -0.10), (3.566, 0.26), (3.567, 0.05),
    (3.569, -0.25), (3.570, 0.10), (3.572, -0.05), (3.573, -0.22), (3.575, 0.15), (3.576, -0.12), (3.578, 0.05),
    (3.579, -0.30), (3.580, 0.12), (3.582, 0.02), (3.583, -0.08), (3.585, 0.18), (3.586, -0.15), (3.588, 0.08),
    (3.589, -0.02), (3.590, 0.15), (3.591, -0.37), (3.592, 0.05), (3.593, -0.81), (3.594, 0.10), (3.595, -0.05),
    (3.596, 0.20), (3.597, -0.12), (3.598, 0.02), (3.599, -0.20), (3.600, 0.08), (3.601, -0.10), (3.602, 0.15),
    (3.603, -0.89), (3.604, -0.02), (3.605, -0.56), (3.606, 0.05), (3.607, -0.15), (3.608, 0.30), (3.609, -0.05),
]
LRR_ST_RED = [
    (3.463, 0.12), (3.464, -0.05), (3.465, 0.13), (3.466, -0.09), (3.467, 0.05), (3.468, -0.07), (3.469, -0.08),
    (3.471, 0.02), (3.474, 0.15), (3.476, 0.10), (3.478, -0.26), (3.480, 0.29), (3.482, 0.07), (3.485, 0.21),
    (3.487, 0.04), (3.489, 0.12), (3.492, 0.18), (3.494, 0.43), (3.496, 0.05), (3.498, 0.18), (3.500, 0.10),
    (3.502, 0.22), (3.503, 0.05), (3.505, 0.29), (3.506, 0.15), (3.508, 0.40), (3.509, 0.02), (3.510, 0.20),
    (3.511, 0.12), (3.512, 0.30), (3.513, 0.08), (3.514, 0.18), (3.515, 0.02), (3.516, 0.12), (3.517, 0.25),
    (3.518, 0.05), (3.519, 0.15), (3.520, 0.10), (3.521, 0.22), (3.522, 0.00), (3.523, 0.15), (3.524, -0.26),
    (3.525, 0.08), (3.526, 0.18), (3.527, -0.77), (3.527, 0.12), (3.528, 0.05), (3.529, 0.20), (3.530, 0.10),
    (3.531, 0.02), (3.532, 0.15), (3.533, 0.25), (3.534, 0.08), (3.535, 0.12), (3.536, 0.58), (3.536, 0.18),
    (3.537, 0.05), (3.538, 0.22), (3.539, 0.10), (3.540, -0.23), (3.540, 0.15), (3.541, 0.08), (3.542, 0.20),
    (3.543, 0.12), (3.544, 0.02), (3.545, 0.16), (3.546, 0.10), (3.547, 0.40), (3.548, 0.05), (3.549, 0.12),
]
CN_ST = [(3.190, 3.465, 2), (3.466, 3.551, 3), (3.552, 3.610, 2)]

TITLES = ["601\u00a0 Non-dissected", "601\u00a0 Micro-dissected", "601\u00a0 Stroma"]
ROW_LABELS = ["BAF", "LRR", "CN"]
X_TICKS = [3.2, 3.3, 3.4, 3.5, 3.6]
BAF_TICKS = [0.0, 0.25, 0.5, 0.75, 1.0]
BAF_TICKTEXT = ["0.0\u00a0", "0.25", "0.5\u00a0", "0.75", "1.0\u00a0"]
LRR_TICKS = [-1, -0.5, 0, 0.5, 1]
LRR_TICKTEXT = ["-1\u00a0", "-0.5", "0\u00a0", "0.5", "1\u00a0"]
CN_TICKS = [0, 2, 4, 6]
CN_TICKTEXT = ["0\u00a0", "2\u00a0", "4\u00a0", "6\u00a0"]
ERBB2_POS = 3.517

# ---------------- layout geometry (pixels) ----------------
W, H = 1211, 975
COLS = [(110, 410), (505, 805), (900, 1200)]
ROWS = [(57, 256), (373, 572), (688, 888)]
X_RANGE = [3.19, 3.61]
Y_RANGES = [[-0.082, 1.082], [-1.5, 1.79], [-0.5, 7.5]]

SANS = "Liberation Sans, Arial, Helvetica, sans-serif"
BOLD = "Lato, Calibri, sans-serif"
GRAY = "#a3a3a3"
BLUE = "#4a70c0"
RED = "#ee1111"
CN_RED = "#ff0000"
TICK_SIZE = 22
DOT = 5.5


def px_to_paper(px, py):
    return px / W, 1 - py / H


def data_to_paper(col, row, xv, yv):
    x0, x1 = COLS[col]
    top, bot = ROWS[row]
    yr = Y_RANGES[row]
    px = x0 + (xv - X_RANGE[0]) / (X_RANGE[1] - X_RANGE[0]) * (x1 - x0)
    py = bot - (yv - yr[0]) / (yr[1] - yr[0]) * (bot - top)
    return px_to_paper(px, py)


def axis_id(col, row):
    k = row * 3 + col + 1
    return ("" if k == 1 else str(k)), k


fig = go.Figure()


def add_points(col, row, pts, color):
    sfx, _ = axis_id(col, row)
    fig.add_trace(go.Scatter(
        x=[p[0] for p in pts], y=[p[1] for p in pts], mode="markers",
        marker=dict(size=DOT, color=color, line=dict(width=0)),
        xaxis="x" + sfx, yaxis="y" + sfx, showlegend=False, hoverinfo="skip"))


def add_segments(col, row, segs):
    sfx, _ = axis_id(col, row)
    for s in segs:
        fig.add_trace(go.Scatter(
            x=[s[0], s[1]], y=[s[2], s[2]], mode="lines",
            line=dict(color=CN_RED, width=5),
            xaxis="x" + sfx, yaxis="y" + sfx, showlegend=False, hoverinfo="skip"))


add_points(0, 0, BAF_ND_GRAY + BAF_ND_BAND, GRAY)
add_points(0, 0, BAF_ND_BLUE, BLUE)
add_points(1, 0, BAF_MD_GRAY + BAF_MD_BAND, GRAY)
add_points(1, 0, BAF_MD_BLUE, BLUE)
add_points(2, 0, BAF_ST_GRAY + BAF_ST_BAND, GRAY)
add_points(2, 0, BAF_ST_BLUE, BLUE)
add_points(0, 1, LRR_ND, RED)
add_points(1, 1, LRR_MD, RED)
add_points(2, 1, LRR_ST_GRAY, GRAY)
add_points(2, 1, LRR_ST_RED, RED)
add_segments(0, 2, CN_ND)
add_segments(1, 2, CN_MD)
add_segments(2, 2, CN_ST)

layout = dict(
    width=W, height=H, margin=dict(l=0, r=0, t=0, b=0),
    paper_bgcolor="white", plot_bgcolor="white", showlegend=False,
    font=dict(family=SANS, color="black"),
)

yticks = [(BAF_TICKS, BAF_TICKTEXT, 2), (LRR_TICKS, LRR_TICKTEXT, 7), (CN_TICKS, CN_TICKTEXT, 7)]
for row in range(3):
    for col in range(3):
        sfx, k = axis_id(col, row)
        x0, x1 = COLS[col]
        top, bot = ROWS[row]
        tv, tt, stand = yticks[row]
        common = dict(showline=True, linecolor="black", linewidth=1.5, mirror="ticks",
                      ticks="inside", ticklen=5, tickwidth=1, tickcolor="black",
                      zeroline=False, tickfont=dict(size=TICK_SIZE, family=SANS, color="black"))
        layout["xaxis" + sfx] = dict(
            domain=[x0 / W, x1 / W], range=X_RANGE, anchor="y" + sfx,
            tickvals=X_TICKS, ticktext=[f"{v:.1f}" for v in X_TICKS],
            showgrid=False, ticklabelstandoff=3, **common)
        layout["yaxis" + sfx] = dict(
            domain=[1 - bot / H, 1 - top / H], range=Y_RANGES[row], anchor="x" + sfx,
            tickvals=tv, ticktext=tt, showgrid=True, gridcolor="#8c8c8c", gridwidth=1,
            griddash="1px,2px", ticklabelstandoff=stand, **common)

fig.update_layout(**layout)

ann = []
shapes = []

# column titles
for cx, title in zip([249, 637, 964], TITLES):
    x, y = px_to_paper(cx, 24)
    ann.append(dict(x=x, y=y, xref="paper", yref="paper", text=title, showarrow=False,
                    xanchor="center", yanchor="middle", font=dict(size=35, family=SANS)))

# row labels
for (cx, cy), lab in zip([(23, 156), (24, 472), (43, 789)], ROW_LABELS):
    x, y = px_to_paper(cx, cy)
    ann.append(dict(x=x, y=y, xref="paper", yref="paper", text=lab, showarrow=False,
                    textangle=-90, xanchor="center", yanchor="middle", font=dict(size=34, family=SANS)))

# exponent labels under each axis
for row, (ybase, ysup) in enumerate([(335, 314), (650, 630), (965, 946)]):
    for col in range(3):
        right = COLS[col][1]
        x, y = px_to_paper(right - 12, ybase)
        ann.append(dict(x=x, y=y, xref="paper", yref="paper", text="x 10", showarrow=False,
                        xanchor="right", yanchor="middle", font=dict(size=19, family=SANS)))
        x, y = px_to_paper(right - 11, ysup)
        ann.append(dict(x=x, y=y, xref="paper", yref="paper", text="7", showarrow=False,
                        xanchor="left", yanchor="middle", font=dict(size=19, family=SANS)))

# x-axis titles on the bottom row
for col in range(3):
    cx = (COLS[col][0] + COLS[col][1]) / 2
    x, y = px_to_paper(cx, 950)
    ann.append(dict(x=x, y=y, xref="paper", yref="paper", text="Position", showarrow=False,
                    xanchor="center", yanchor="middle", font=dict(size=35, family=SANS)))

# ERBB2 marker above each CN panel
for col in range(3):
    ax, _ = data_to_paper(col, 2, ERBB2_POS, 0)
    apx = ax * W
    x, y = px_to_paper(apx - 15, 645)
    ann.append(dict(x=x, y=y, xref="paper", yref="paper", text="<b>ERBB2</b>", showarrow=False,
                    xanchor="right", yanchor="middle", font=dict(size=28, family=BOLD)))
    xa, ya = px_to_paper(apx, 637)
    xb, yb = px_to_paper(apx, 664)
    shapes.append(dict(type="line", xref="paper", yref="paper", x0=xa, y0=ya, x1=xb, y1=yb,
                       line=dict(color="black", width=2)))
    p1 = px_to_paper(apx - 5, 660)
    p2 = px_to_paper(apx + 5, 660)
    p3 = px_to_paper(apx, 683)
    shapes.append(dict(type="path", xref="paper", yref="paper",
                       path=f"M {p1[0]} {p1[1]} L {p2[0]} {p2[1]} L {p3[0]} {p3[1]} Z",
                       fillcolor="black", line=dict(color="black", width=1)))

# copy-number brackets linking the two tumour LRR panels
UPPER = dict(x_nd=3.523, x_md=3.520, y_top=1.355, y_nd=0.68, y_md=0.66)
LOWER = dict(x_nd=3.438, x_md=3.435, y_bot=-1.157, y_nd=0.45, y_md=0.43)
a = data_to_paper(0, 1, UPPER["x_nd"], UPPER["y_nd"])
b = data_to_paper(0, 1, UPPER["x_nd"], UPPER["y_top"])
c = data_to_paper(1, 1, UPPER["x_md"], UPPER["y_top"])
d = data_to_paper(1, 1, UPPER["x_md"], UPPER["y_md"])
shapes.append(dict(type="path", xref="paper", yref="paper",
                   path=f"M {a[0]} {a[1]} L {b[0]} {b[1]} L {c[0]} {c[1]} L {d[0]} {d[1]}",
                   line=dict(color="black", width=2)))
a = data_to_paper(0, 1, LOWER["x_nd"], LOWER["y_nd"])
b = data_to_paper(0, 1, LOWER["x_nd"], LOWER["y_bot"])
c = data_to_paper(1, 1, LOWER["x_md"], LOWER["y_bot"])
d = data_to_paper(1, 1, LOWER["x_md"], LOWER["y_md"])
shapes.append(dict(type="path", xref="paper", yref="paper",
                   path=f"M {a[0]} {a[1]} L {b[0]} {b[1]} L {c[0]} {c[1]} L {d[0]} {d[1]}",
                   line=dict(color="black", width=2)))
for text, py in [("7cn+3cn", 387), ("7cn+2cn", 567)]:
    x, y = px_to_paper(456, py)
    ann.append(dict(x=x, y=y, xref="paper", yref="paper", text=f"<b>{text}</b>", showarrow=False,
                    xanchor="center", yanchor="middle", font=dict(size=16, family=BOLD)))

# stroma copy-number ticks
for xv, y0, y1, text in [(3.431, 0.0, 0.65, "2cn"), (3.515, 0.13, 0.80, "3cn")]:
    shapes.append(dict(type="line", xref="x6", yref="y6", x0=xv, x1=xv, y0=y0, y1=y1,
                       line=dict(color="black", width=2)))
    ann.append(dict(x=xv, y=y1, xref="x6", yref="y6", text=f"<b>{text}</b>", showarrow=False,
                    xanchor="center", yanchor="bottom", yshift=4, font=dict(size=16, family=BOLD)))

fig.update_layout(annotations=ann, shapes=shapes)
fig.write_html("out.html")
